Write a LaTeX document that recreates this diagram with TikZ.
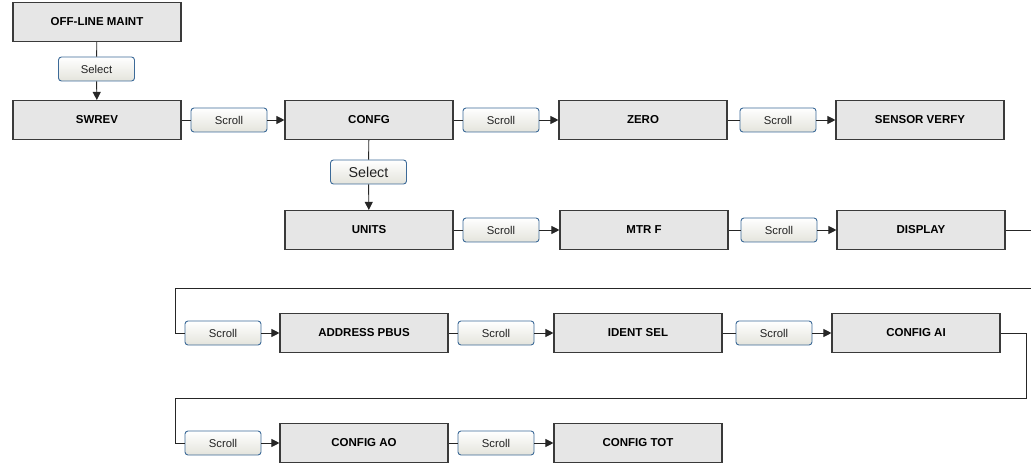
\documentclass[tikz,border=0pt]{standalone}
\usepackage{fontspec}
\setmainfont{Liberation Sans}
\usetikzlibrary{arrows.meta}
\definecolor{boxfill}{HTML}{E6E6E6}
\definecolor{boxline}{HTML}{3A3A3A}
\definecolor{btnline}{HTML}{3C6A98}
\definecolor{btnbot}{HTML}{E4E4DC}
\definecolor{btntext}{HTML}{222222}
\tikzset{
  menubox/.style={draw=boxline, line width=1.1pt, fill=boxfill, minimum width=168pt, minimum height=39pt, inner sep=0pt, font=\fontsize{11.5}{13}\selectfont\bfseries},
  btn/.style={draw=btnline, line width=0.9pt, rounded corners=3pt, top color=white, bottom color=btnbot, minimum width=76pt, minimum height=24pt, inner sep=0pt, text=btntext, font=\fontsize{11.3}{13}\selectfont},
  bigbtn/.style={btn, font=\fontsize{14.3}{16}\selectfont},
  ln/.style={draw=black!85, line width=0.9pt},
  arr/.style={ln, -{Triangle[length=8pt,width=8pt]}}
}
\begin{document}
\begin{tikzpicture}[x=1pt,y=-1pt]
\useasboundingbox (0,0) rectangle (1031,465);
% row 1
\node[menubox] (off) at (97,22) {OFF-LINE MAINT};
\node[btn] (sel1) at (96.5,69) {Select};
% row 2
\node[menubox] (swrev) at (97,120) {SWREV};
\node[btn] (s1) at (229,120) {Scroll};
\node[menubox] (confg) at (369,120) {CONFG};
\node[btn] (s2) at (501,120) {Scroll};
\node[menubox] (zero) at (643,120) {ZERO};
\node[btn] (s3) at (778,120) {Scroll};
\node[menubox] (sensor) at (920,120) {SENSOR VERFY};
\node[bigbtn] (sel2) at (368.5,172) {Select};
% row 3
\node[menubox] (units) at (369,230) {UNITS};
\node[btn] (s4) at (501,230) {Scroll};
\node[menubox] (mtrf) at (644,230) {MTR F};
\node[btn] (s5) at (779,230) {Scroll};
\node[menubox] (display) at (921,230) {DISPLAY};
% row 4
\node[btn] (s6) at (223,333) {Scroll};
\node[menubox] (addr) at (364,333) {ADDRESS PBUS};
\node[btn] (s7) at (496,333) {Scroll};
\node[menubox] (ident) at (638,333) {IDENT SEL};
\node[btn] (s8) at (774,333) {Scroll};
\node[menubox] (cai) at (916,333) {CONFIG AI};
% row 5
\node[btn] (s9) at (223,443) {Scroll};
\node[menubox] (cao) at (364,443) {CONFIG AO};
\node[btn] (s10) at (496,443) {Scroll};
\node[menubox] (ctot) at (638,443) {CONFIG TOT};
% helper coordinates
\coordinate (dispEnd) at (1031,230);
\coordinate (loopA1) at (1031,288);
\coordinate (loopA2) at (175,288);
\coordinate (loopB1) at (1026,333);
\coordinate (loopB2) at (1026,398);
\coordinate (loopB3) at (175,398);
% connectors
\draw[ln] (off) -- (sel1);
\draw[arr] (sel1) -- (swrev);
\draw[ln] (swrev) -- (s1); \draw[arr] (s1) -- (confg);
\draw[ln] (confg) -- (s2); \draw[arr] (s2) -- (zero);
\draw[ln] (zero) -- (s3); \draw[arr] (s3) -- (sensor);
\draw[ln] (confg) -- (sel2);
\draw[arr] (sel2) -- (units);
\draw[ln] (units) -- (s4); \draw[arr] (s4) -- (mtrf);
\draw[ln] (mtrf) -- (s5); \draw[arr] (s5) -- (display);
\draw[ln] (display) -- (dispEnd);
\draw[ln] (loopA1) -- (loopA2) |- (s6);
\draw[arr] (s6) -- (addr);
\draw[ln] (addr) -- (s7); \draw[arr] (s7) -- (ident);
\draw[ln] (ident) -- (s8); \draw[arr] (s8) -- (cai);
\draw[ln] (cai) -- (loopB1) -- (loopB2) -- (loopB3) |- (s9);
\draw[arr] (s9) -- (cao);
\draw[ln] (cao) -- (s10); \draw[arr] (s10) -- (ctot);
\end{tikzpicture}
\end{document}
